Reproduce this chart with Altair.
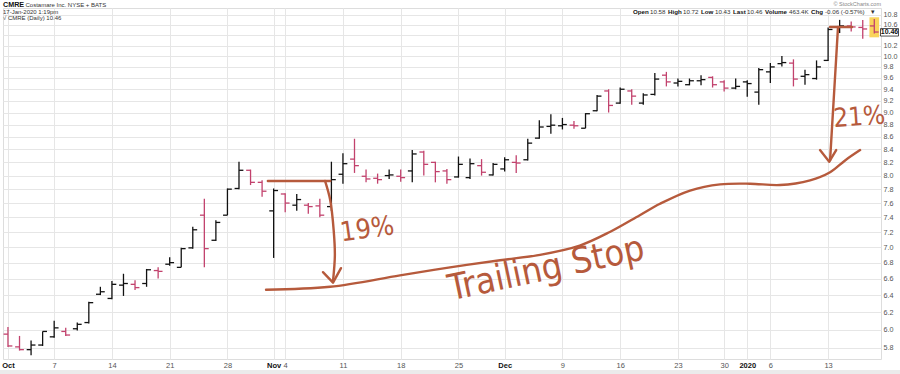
import altair as alt
import pandas as pd

# ---------------- data: CMRE daily OHLC, 1-Oct-2019 .. 17-Jan-2020 ----------------
opens = [5.95, 5.81, 5.78, 5.83, 5.92, 5.98, 6.01, 6.08, 6.41, 6.36,
         6.52, 6.53, 6.54, 6.70, 6.78, 6.74, 6.99, 7.43, 7.09, 7.43,
         7.81, 8.08, 7.90, 7.49, 7.73, 7.57, 7.57, 7.56, 7.55, 8.02,
         8.25, 7.99, 7.96, 8.00, 7.99, 8.07, 8.36, 8.20, 8.07, 7.98,
         7.97, 8.15, 8.01, 8.10, 8.20, 8.24, 8.58, 8.77, 8.78, 8.79,
         8.74, 9.03, 9.37, 9.16, 9.37, 9.16, 9.31, 9.65, 9.51, 9.48,
         9.55, 9.61, 9.53, 9.42, 9.53, 9.35, 9.71, 9.86, 9.87, 9.63,
         9.59, 9.92, 10.56, 10.58, 10.55, 10.58]
highs = [6.03, 5.93, 5.88, 5.98, 6.10, 6.02, 6.08, 6.32, 6.50, 6.57,
         6.66, 6.58, 6.72, 6.74, 6.87, 6.99, 7.27, 7.66, 7.36, 7.81,
         8.21, 8.09, 7.93, 7.81, 7.74, 7.73, 7.60, 7.66, 8.21, 8.34,
         8.57, 8.09, 8.03, 8.09, 8.09, 8.39, 8.38, 8.21, 8.10, 8.29,
         8.26, 8.25, 8.19, 8.28, 8.31, 8.57, 8.87, 8.97, 8.91, 8.86,
         8.99, 9.30, 9.40, 9.43, 9.40, 9.33, 9.69, 9.71, 9.59, 9.59,
         9.65, 9.63, 9.56, 9.59, 9.56, 9.78, 9.87, 10.00, 9.94, 9.75,
         9.92, 10.55, 10.70, 10.67, 10.70, 10.72]
lows = [5.81, 5.77, 5.72, 5.82, 5.91, 5.93, 5.99, 6.07, 6.40, 6.35,
        6.39, 6.46, 6.50, 6.60, 6.76, 6.74, 6.98, 6.74, 7.08, 7.43,
        7.80, 7.86, 7.69, 6.86, 7.47, 7.49, 7.45, 7.40, 7.49, 7.88,
        8.04, 7.90, 7.88, 7.95, 7.91, 7.90, 8.00, 7.90, 7.88, 7.97,
        7.95, 8.00, 8.00, 8.06, 8.04, 8.23, 8.57, 8.65, 8.72, 8.73,
        8.74, 9.02, 9.00, 9.15, 9.13, 9.13, 9.29, 9.45, 9.45, 9.47,
        9.47, 9.43, 9.36, 9.40, 9.27, 9.13, 9.51, 9.81, 9.45, 9.48,
        9.57, 9.91, 10.44, 10.47, 10.33, 10.43]
closes = [5.82, 5.78, 5.83, 5.98, 6.02, 5.94, 6.06, 6.31, 6.44, 6.53,
          6.54, 6.49, 6.71, 6.69, 6.80, 6.98, 7.23, 6.98, 7.33, 7.80,
          8.08, 7.90, 7.77, 7.78, 7.60, 7.65, 7.55, 7.43, 7.94, 8.18,
          8.15, 7.95, 7.94, 8.01, 7.97, 8.33, 8.17, 8.06, 7.94, 8.17,
          8.18, 8.05, 8.17, 8.24, 8.19, 8.50, 8.76, 8.79, 8.80, 8.78,
          8.98, 9.28, 9.12, 9.40, 9.28, 9.30, 9.58, 9.53, 9.54, 9.55,
          9.57, 9.48, 9.42, 9.45, 9.50, 9.75, 9.80, 9.88, 9.58, 9.66,
          9.80, 10.51, 10.58, 10.56, 10.52, 10.46]
prior_close = 6.00
volume_last = "463.4K"

# x-axis (trading-day index) labels
tick_idx = [0, 4, 9, 14, 19, 23, 24, 29, 34, 39, 43, 48, 53, 58, 62, 64, 66, 71]
tick_lab = ["Oct", "7", "14", "21", "28", "Nov", "4", "11", "18", "25",
            "Dec", "9", "16", "23", "30", "2020", "6", "13"]
bold_idx = [0, 23, 43, 64]
price_ticks = [5.8, 6.0, 6.2, 6.4, 6.6, 6.8, 7.0, 7.2, 7.4, 7.6, 7.8, 8.0, 8.2,
               8.4, 8.6, 8.8, 9.0, 9.2, 9.4, 9.6, 9.8, 10.0, 10.2, 10.4, 10.6, 10.8]

# hand-drawn annotation strokes (trading-day index, price)
top1_i, top1_p = [22.5, 27.9], [7.92, 7.92]
arrow1_i = [27.45, 27.9, 28.2, 28.3, 28.14]
arrow1_p = [7.92, 7.64, 7.22, 6.89, 6.57]
head1_i, head1_p = [27.27, 28.14, 28.83], [6.68, 6.55, 6.73]
trail_i = [22.34, 27.88, 33.94, 38.27, 42.6, 46.06, 49.5, 52.1, 54.7, 56.45,
           59.05, 61.65, 64.24, 66.84, 69.44, 71.17, 72.47, 73.77]
trail_p = [6.465, 6.50, 6.64, 6.74, 6.83, 6.90, 7.02, 7.20, 7.43, 7.59,
           7.78, 7.87, 7.88, 7.86, 7.93, 8.05, 8.23, 8.39]
top2_i, top2_p = [71.17, 73.07], [10.56, 10.56]
arrow2_i = [71.86, 71.69, 71.43, 71.17]
arrow2_p = [10.56, 9.93, 9.04, 8.23]
head2_i, head2_p = [70.3, 71.1, 71.7], [8.39, 8.21, 8.39]

notes = ["19%", "Trailing Stop", "21%"]
notes_i = [31.1, 46.6, 73.7]
notes_p = [7.23, 6.72, 8.92]

# ---------------- build tables ----------------
n = len(closes)
prev = [prior_close] + closes[:-1]
df = pd.DataFrame({
    "idx": list(range(n)), "open": opens, "high": highs, "low": lows, "close": closes,
    "dir": ["up" if c > p else "down" for c, p in zip(closes, prev)],
})


def stroke_df(name, xs, ys):
    return pd.DataFrame({"path": name, "k": list(range(len(xs))), "i": xs, "p": ys})


curvy = pd.concat([stroke_df("arrow1", arrow1_i, arrow1_p),
                   stroke_df("trail", trail_i, trail_p),
                   stroke_df("arrow2", arrow2_i, arrow2_p)])
straight = pd.concat([stroke_df("top1", top1_i, top1_p),
                      stroke_df("head1", head1_i, head1_p),
                      stroke_df("top2", top2_i, top2_p),
                      stroke_df("head2", head2_i, head2_p)])

# ---------------- styling ----------------
FONT = "Liberation Sans"
HAND = "Liberation Sans Narrow, DejaVu Sans Condensed, sans-serif"
INK = "#b65a3c"
UP, DOWN = "#111111", "#c2426d"
GRID = "#e6e6e6"

xs = alt.Scale(domain=[-0.43, 75.58], nice=False, zero=False)
ys = alt.Scale(type="log", domain=[5.68, 10.94], nice=False)

labels_js = "[" + ",".join("'%s'" % t for t in tick_lab) + "]"
idx_js = "[" + ",".join(str(v) for v in tick_idx) + "]"
bold_js = "[" + ",".join(str(v) for v in bold_idx) + "]"
bold_test = "indexof(%s, datum.value) >= 0" % bold_js

xaxis = alt.Axis(values=tick_idx,
                 labelExpr="%s[indexof(%s, datum.value)]" % (labels_js, idx_js),
                 grid=True, gridColor=GRID, domain=False, ticks=False,
                 labelFont=FONT, labelFontSize=7.5, labelPadding=2,
                 labelColor={"condition": {"test": bold_test, "value": "#111111"}, "value": "#555555"},
                 labelFontWeight={"condition": {"test": bold_test, "value": "bold"}, "value": "normal"},
                 labelFlush=False, labelOverlap=False, title=None)
# the 10.4 label sits under the current-price box, as in the reference
yaxis = alt.Axis(orient="right", values=price_ticks,
                 labelExpr="abs(datum.value - %.2f) < 0.1 ? '' : format(datum.value, '.1f')" % closes[-1],
                 grid=True, gridColor=GRID, domain=False, ticks=False,
                 labelFont=FONT, labelFontSize=7.2, labelColor="#555555", labelPadding=2,
                 labelOverlap=False, labelFlush=False, title=None)


def X(f):
    return alt.X(f, type="quantitative", scale=xs, axis=xaxis)


def Y(f):
    return alt.Y(f, type="quantitative", scale=ys, axis=yaxis)


color = alt.Color("dir:N", scale=alt.Scale(domain=["up", "down"], range=[UP, DOWN]), legend=None)
base = alt.Chart(df)

# yellow highlight of the current bar
highlight = base.transform_filter("datum.idx == %d" % (n - 1)).transform_calculate(
    x1="datum.idx - 0.42", x2="datum.idx + 0.42",
    y1="datum.high * 1.003", y2="datum.low * 0.993",
).mark_rect(color="#f9d35b").encode(x=X("x1"), x2="x2:Q", y=Y("y1"), y2="y2:Q")

wick = base.mark_rule(strokeWidth=1.3).encode(x=X("idx"), y=Y("low"), y2="high:Q", color=color)
open_tick = base.transform_calculate(xl="datum.idx - 0.38").mark_rule(strokeWidth=1.3).encode(
    x=X("xl"), x2="idx:Q", y=Y("open"), color=color)
close_tick = base.transform_calculate(xr="datum.idx + 0.38").mark_rule(strokeWidth=1.3).encode(
    x=X("idx"), x2="xr:Q", y=Y("close"), color=color)

ink_curves = alt.Chart(curvy).mark_line(
    color=INK, strokeWidth=2.4, strokeCap="round", strokeJoin="round", interpolate="catmull-rom"
).encode(x=X("i"), y=Y("p"), detail="path:N", order="k:Q")
ink_lines = alt.Chart(straight).mark_line(
    color=INK, strokeWidth=2.4, strokeCap="round", strokeJoin="round"
).encode(x=X("i"), y=Y("p"), detail="path:N", order="k:Q")


def note(k, size, angle):
    d = pd.DataFrame({"t": [notes[k]], "i": [notes_i[k]], "p": [notes_p[k]]})
    return alt.Chart(d).mark_text(font=HAND, fontSize=size, angle=angle, color=INK).encode(
        x=X("i"), y=Y("p"), text="t:N")


# current price box on the right axis
last = pd.DataFrame({"v": [closes[-1]]})
price_box = alt.Chart(last).transform_calculate(y1="datum.v * 1.0065", y2="datum.v * 0.9925").mark_rect(
    fill="white", stroke="#222222", strokeWidth=0.8
).encode(x=alt.value(877.5), x2=alt.value(895.5), y=Y("y1"), y2="y2:Q")
price_txt = alt.Chart(last).mark_text(font=FONT, fontSize=7, fontWeight="bold", color="#111111").encode(
    x=alt.value(886.5), y=Y("v"), text=alt.Text("v:Q", format=".2f"))


def label(txt, x, y, size=6.2, weight="normal", color="#333333", align="left"):
    return alt.Chart(pd.DataFrame({"t": [txt]})).mark_text(
        font=FONT, fontSize=size, fontWeight=weight, color=color, align=align, baseline="middle"
    ).encode(x=alt.value(x), y=alt.value(y), text="t:N")


chg = closes[-1] - closes[-2]
pct = chg / closes[-2] * 100
B = "#111111"
header = [
    label("CMRE", 0, -3.5, size=7.2, weight="bold", color=B),
    label("Costamare Inc.  NYSE + BATS", 22.5, -3.3, size=6),
    label("17-Jan-2020 1:19pm", 0, 3.5, size=6),
    label("\u221a CMRE (Daily) %.2f" % closes[-1], 0, 10, size=6),
    label("\u00a9 StockCharts.com", 878, -4, size=5.5, color="#888888", align="right"),
    label("Open", 630, 4, weight="bold", color=B),
    label("%.2f" % opens[-1], 647, 4),
    label("High", 665, 4, weight="bold", color=B),
    label("%.2f" % highs[-1], 680, 4),
    label("Low", 698, 4, weight="bold", color=B),
    label("%.2f" % lows[-1], 712, 4),
    label("Last", 730, 4, weight="bold", color=B),
    label("%.2f" % closes[-1], 744, 4),
    label("Volume", 762, 4, weight="bold", color=B),
    label(volume_last, 786, 4),
    label("Chg", 808, 4, weight="bold", color=B),
    label("%.2f (%.2f%%)" % (chg, pct), 822, 4),
    label("\u25be", 868, 4, size=7),
]

bottom_strip = alt.Chart(pd.DataFrame({"a": [0]})).mark_rect(color="#ebebeb").encode(
    x=alt.value(-3), x2=alt.value(897), y=alt.value(362), y2=alt.value(366))

chart = alt.layer(
    highlight, wick, open_tick, close_tick,
    ink_curves, ink_lines,
    note(0, 27, 352), note(1, 36, 348), note(2, 26, 356),
    price_box, price_txt, bottom_strip, *header,
).properties(
    width=878, height=351,
    padding={"left": 3, "top": 8, "right": 19, "bottom": 15},
    autosize=alt.AutoSizeParams(type="none"),
).configure_view(stroke="#b8b8b8", strokeWidth=1).configure(background="white")

chart.save("out.html", embed_options={"renderer": "svg", "actions": False})
